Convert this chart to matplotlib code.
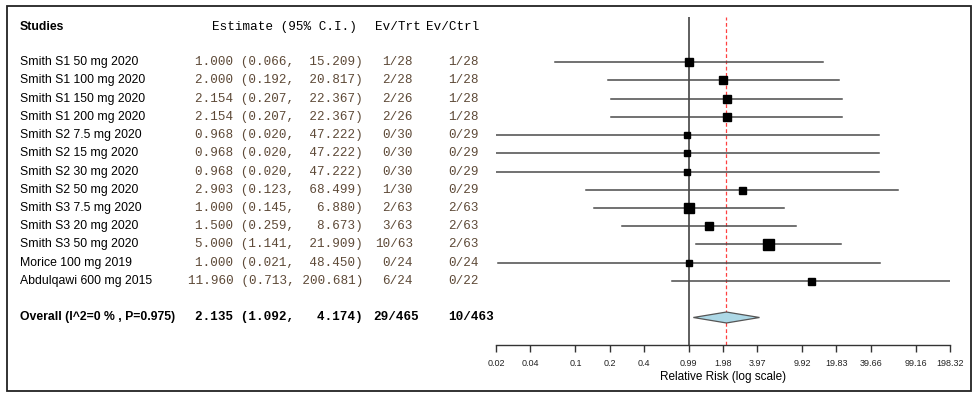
import matplotlib.pyplot as plt
from matplotlib.patches import Rectangle, Polygon
from matplotlib.transforms import blended_transform_factory
import numpy as np

# study data
studies = [
    "Smith S1 50 mg 2020", "Smith S1 100 mg 2020", "Smith S1 150 mg 2020",
    "Smith S1 200 mg 2020", "Smith S2 7.5 mg 2020", "Smith S2 15 mg 2020",
    "Smith S2 30 mg 2020", "Smith S2 50 mg 2020", "Smith S3 7.5 mg 2020",
    "Smith S3 20 mg 2020", "Smith S3 50 mg 2020", "Morice 100 mg 2019",
    "Abdulqawi 600 mg 2015",
]
est = [1.000, 2.000, 2.154, 2.154, 0.968, 0.968, 0.968, 2.903, 1.000, 1.500, 5.000, 1.000, 11.960]
lo = [0.066, 0.192, 0.207, 0.207, 0.020, 0.020, 0.020, 0.123, 0.145, 0.259, 1.141, 0.021, 0.713]
hi = [15.209, 20.817, 22.367, 22.367, 47.222, 47.222, 47.222, 68.499, 6.880, 8.673, 21.909, 48.450, 200.681]
ev_trt = ["1/28", "2/28", "2/26", "2/26", "0/30", "0/30", "0/30", "1/30", "2/63", "3/63", "10/63", "0/24", "6/24"]
ev_ctrl = ["1/28", "1/28", "1/28", "1/28", "0/29", "0/29", "0/29", "0/29", "2/63", "2/63", "2/63", "0/24", "0/22"]
weights = [8, 8, 8.5, 8.5, 6, 6, 6, 7, 9.5, 8.5, 11, 6.5, 7]

overall_label = "Overall (I^2=0 % , P=0.975)"
overall_est, overall_lo, overall_hi = 2.135, 1.092, 4.174
overall_trt, overall_ctrl = "29/465", "10/463"

xticks = [0.02, 0.04, 0.1, 0.2, 0.4, 0.99, 1.98, 3.97, 9.92, 19.83, 39.66, 99.16, 198.32]

W, H = 973, 393
fig = plt.figure(figsize=(W / 100, H / 100), dpi=100)

## forest axes
ax = fig.add_axes([496 / W, (H - 345) / H, 454 / W, 328 / H])
ax.set_xscale("log")
ax.set_xlim(0.02, 198.32)
n = len(studies)
ax.set_ylim(15.507, -2.466)

ax.axvline(1, color="#333333", lw=1.1, zorder=2)
ax.axvline(overall_est, color="#ff4040", lw=0.9, ls=(0, (3, 2)), zorder=2)

for i in range(n):
    ax.plot([lo[i], hi[i]], [i, i], color="#4a4a4a", lw=1.1, zorder=3)
    ax.plot(est[i], i, marker="s", color="black", ms=weights[i] * 0.72, zorder=4)

oy = n + 1
dh = 0.3
diamond = Polygon([[overall_lo, oy], [overall_est, oy - dh], [overall_hi, oy], [overall_est, oy + dh]],
                  closed=True, facecolor="#add8e6", edgecolor="#555555", lw=0.9, zorder=4)
ax.add_patch(diamond)

for s in ["top", "right", "left"]:
    ax.spines[s].set_visible(False)
ax.spines["bottom"].set_color("#333333")
ax.spines["bottom"].set_linewidth(1.0)
ax.set_yticks([])
ax.set_xticks(xticks)
ax.set_xticklabels([f"{t:g}" for t in xticks], fontsize=6.5, family="Liberation Sans", color="#222222")
ax.minorticks_off()
ax.tick_params(axis="x", length=5, width=1.0, color="#333333", pad=5)
ax.set_xlabel("Relative Risk (log scale)", fontsize=8.5, family="Liberation Sans", labelpad=2)

## table text
tr = blended_transform_factory(fig.transFigure, ax.transData)
hy = -1.9
sans = "Liberation Sans"
mono = "Liberation Mono"
num_col = "#5e4a38"
fs = 8.8
fm = 9.1

ax.text(20 / W, hy, "Studies", transform=tr, fontsize=fs, family=sans, weight="bold", va="center")
ax.text(212 / W, hy, "Estimate (95% C.I.)", transform=tr, fontsize=fm, family=mono, va="center")
ax.text(375 / W, hy, "Ev/Trt", transform=tr, fontsize=fm, family=mono, va="center")
ax.text(426 / W, hy, "Ev/Ctrl", transform=tr, fontsize=fm, family=mono, va="center")

for i in range(n):
    ax.text(20 / W, i, studies[i], transform=tr, fontsize=fs, family=sans, va="center")
    ax.text(363 / W, i, f"{est[i]:.3f} ({lo[i]:.3f}, {hi[i]:7.3f})", transform=tr,
            fontsize=fm, family=mono, va="center", ha="right", color=num_col)
    ax.text(413 / W, i, ev_trt[i], transform=tr, fontsize=fm, family=mono, va="center", ha="right", color=num_col)
    ax.text(448 / W, i, ev_ctrl[i], transform=tr, fontsize=fm, family=mono, va="center", color=num_col)

ax.text(20 / W, oy, overall_label, transform=tr, fontsize=fs, family=sans, weight="bold", va="center")
ax.text(363 / W, oy, f"{overall_est:.3f} ({overall_lo:.3f}, {overall_hi:7.3f})", transform=tr,
        fontsize=fm, family=mono, weight="bold", va="center", ha="right")
ax.text(419 / W, oy, overall_trt, transform=tr, fontsize=fm, family=mono, weight="bold", va="center", ha="right")
ax.text(448 / W, oy, overall_ctrl, transform=tr, fontsize=fm, family=mono, weight="bold", va="center")

## outer frame
fig.patches.append(Rectangle((7 / W, (H - 391) / H), 964 / W, 385 / H, transform=fig.transFigure,
                             fill=False, edgecolor="#222222", lw=1.3))

fig.savefig("out.png", dpi=100)
